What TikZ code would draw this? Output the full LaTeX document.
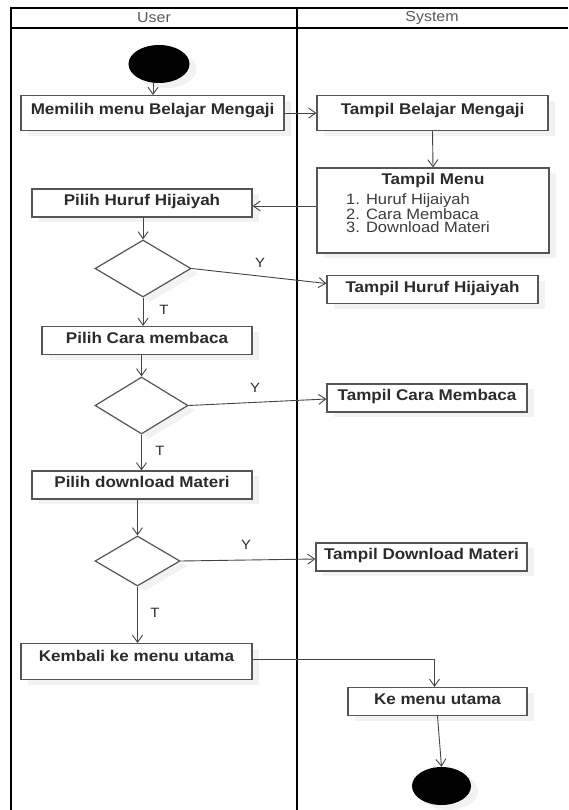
\documentclass[tikz,border=0pt]{standalone}
\usepackage{fontspec}
\newfontfamily\diagfont[FakeStretch=1.1]{Liberation Sans}
\usetikzlibrary{arrows.meta,shapes.geometric,shadows}
\definecolor{edgegray}{HTML}{454545}
\definecolor{boxgray}{HTML}{555555}
\definecolor{textgray}{HTML}{2B2B2B}
\definecolor{itemgray}{HTML}{3C3C3C}
\definecolor{labelgray}{HTML}{5A5A5A}
\definecolor{shadegray}{HTML}{F2F2F2}

\begin{document}
\begin{tikzpicture}[x=1pt,y=-1pt,
  font=\diagfont,
  lane/.style={line width=2pt,black},
  softshadow/.style={drop shadow={shadow xshift=7pt,shadow yshift=-5pt,fill=shadegray,opacity=1}},
  act/.style={draw=boxgray,line width=1.2pt,fill=white,softshadow,inner sep=0pt,
    font=\diagfont\bfseries\fontsize{15.5}{18}\selectfont,text=textgray,
    text height=16.5pt,text depth=11.5pt},
  tallact/.style={act,anchor=north,text height=18.5pt,text depth=16.5pt},
  decision/.style={diamond,draw=boxgray,line width=1.2pt,fill=white,softshadow,inner sep=0pt},
  terminal/.style={ellipse,fill=black,softshadow,inner sep=0pt,minimum width=61pt,minimum height=38pt},
  flow/.style={draw=edgegray,line width=0.9pt,-{Straight Barb[length=7pt,width=10pt]}},
  lanehead/.style={font=\diagfont\fontsize{14.5}{17}\selectfont,text=labelgray,inner sep=0pt},
  guard/.style={font=\diagfont\fontsize{13.5}{16}\selectfont,text=textgray,inner sep=0pt},
  menutitle/.style={font=\diagfont\bfseries\fontsize{15.5}{18}\selectfont,text=textgray,anchor=base,inner sep=0pt},
  menuitem/.style={font=\diagfont\fontsize{15}{17}\selectfont,text=itemgray,anchor=base west,inner sep=0pt}
]
\useasboundingbox (0,0) rectangle (568,810);
\fill[white] (0,0) rectangle (568,810);

% swimlane frame
\draw[lane] (11,8) -- (568,8);
\draw[lane] (11,28) -- (568,28);
\draw[lane] (11,7) -- (11,810);
\draw[lane] (297,7) -- (297,810);
\node[lanehead] (userlane) at (154,18) {User};
\node[lanehead] (systemlane) at (432,18) {System};

% activities
\node[terminal] (start) at (159,64) {};
\node[tallact,minimum width=263pt] (memilih) at (152.5,95) {Memilih menu Belajar Mengaji};
\node[tallact,minimum width=231pt] (belajar) at (432.5,95) {Tampil Belajar Mengaji};
\node[draw=boxgray,line width=1.2pt,fill=white,softshadow,minimum width=232pt,minimum height=85pt,inner sep=0pt] (menu) at (433,210.5) {};
\node[menutitle] (menuhead) at (433,184.5) {Tampil Menu};
\node[menuitem] (item1) at (346,205) {1. Huruf Hijaiyah};
\node[menuitem] (item2) at (346,219) {2. Cara Membaca};
\node[menuitem] (item3) at (346,233) {3. Download Materi};

\node[act,minimum width=220pt] (huruf) at (142,203) {Pilih Huruf Hijaiyah};
\node[decision,minimum width=96pt,minimum height=57pt] (d1) at (143,268.5) {};
\node[act,minimum width=211pt] (thuruf) at (432.5,289.5) {Tampil Huruf Hijaiyah};

\node[act,minimum width=210pt] (cara) at (147,340.5) {Pilih Cara membaca};
\node[decision,minimum width=93pt,minimum height=57pt] (d2) at (141.5,405.5) {};
\node[act,minimum width=200pt] (tcara) at (427,398) {Tampil Cara Membaca};

\node[act,minimum width=220pt] (unduh) at (142,485) {Pilih download Materi};
\node[decision,minimum width=85pt,minimum height=50pt] (d3) at (137.5,561) {};
\node[act,minimum width=211pt] (tunduh) at (421.5,557) {Tampil Download Materi};

\node[tallact,minimum width=231pt,text height=17.5pt,text depth=18.5pt] (kembali) at (136.5,643) {Kembali ke menu utama};
\node[act,minimum width=179pt] (kemenu) at (437.5,701.5) {Ke menu utama};
\node[terminal,minimum width=59pt] (end) at (441.5,786) {};

% guard labels
\node[guard] (y1) at (260,263) {Y};
\node[guard] (t1) at (164,310) {T};
\node[guard] (y2) at (255,388) {Y};
\node[guard] (t2) at (160,451) {T};
\node[guard] (y3) at (246,545) {Y};
\node[guard] (t3) at (155,613) {T};

% control flow
\coordinate (s0) at ([xshift=-6pt]start.south);
\draw[flow] (s0) -- (s0 |- memilih.north);
\draw[flow] (memilih.east) -- (belajar.west);
\draw[flow] (belajar.south) -- (menu.north);
\coordinate (mh) at ([yshift=-3pt]huruf.east);
\draw[flow] (menu.west |- mh) -- (mh);
\draw[flow] (d1.north |- huruf.south) -- (d1.north);
\draw[flow] (d1.east) -- ([yshift=6pt]thuruf.west);
\draw[flow] (d1.south) -- (d1.south |- cara.north);
\draw[flow] (d2.north |- cara.south) -- (d2.north);
\draw[flow] (d2.east) -- ([yshift=-1pt]tcara.west);
\draw[flow] (d2.south) -- (d2.south |- unduh.north);
\draw[flow] (d3.north |- unduh.south) -- (d3.north);
\draw[flow] (d3.east) -- ([yshift=-2pt]tunduh.west);
\draw[flow] (d3.south) -- (d3.south |- kembali.north);
\draw[flow] ([yshift=2pt]kembali.east) -| ([xshift=-3pt]kemenu.north);
\draw[flow] (kemenu.south) -- (end.north);
\end{tikzpicture}
\end{document}
